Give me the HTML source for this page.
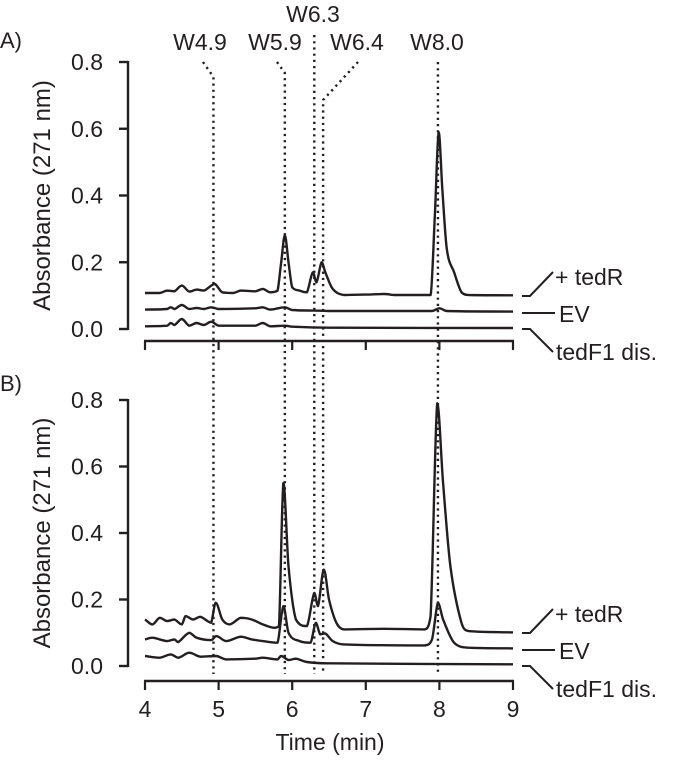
<!DOCTYPE html>
<html><head><meta charset="utf-8"><style>
html,body{margin:0;padding:0;background:#fff}
svg{display:block;font-family:"Liberation Sans",sans-serif;fill:#231f20}
</style></head><body>
<svg id="chart" width="680" height="761" viewBox="0 0 680 761">
<g id="layer"></g>
</svg>
<script>
const xTicks=[4,5,6,7,8,9];
const yTicks=[0,0.2,0.4,0.6,0.8];
const yTickLabels=["0.0","0.2","0.4","0.6","0.8"];
const peakNames=["W4.9","W5.9","W6.3","W6.4","W8.0"];
const peakTimes=[4.93,5.9,6.3,6.42,7.98];
const seriesNames=["+ tedR","EV","tedF1 dis."];
const aTedRt=[4.0,4.2,4.3,4.4,4.5,4.6,4.7,4.8,4.9,4.95,5.05,5.2,5.3,5.5,5.6,5.7,5.8,5.85,5.9,5.95,6.0,6.1,6.2,6.28,6.33,6.4,6.45,6.55,6.7,7.0,7.25,7.4,7.88,7.94,7.99,8.04,8.1,8.2,8.3,8.4,9.0];
const aTedRv=[.108,.108,.115,.113,.13,.112,.118,.115,.13,.135,.11,.108,.115,.113,.12,.11,.115,.2,.28,.2,.125,.115,.11,.17,.14,.2,.17,.12,.102,.103,.105,.102,.102,.35,.59,.42,.24,.17,.11,.102,.101];
const aEVt=[4.0,4.3,4.35,4.4,4.5,4.6,4.7,4.8,4.9,5.0,5.5,5.6,5.7,5.9,6.0,6.3,6.5,7.9,8.0,8.1,9.0];
const aEVv=[.058,.06,.065,.06,.072,.06,.063,.06,.065,.06,.062,.065,.058,.065,.057,.055,.054,.054,.062,.054,.052];
const aF1t=[4.0,4.3,4.35,4.4,4.5,4.6,4.7,4.8,4.9,5.0,5.5,5.6,5.7,5.9,6.0,6.5,9.0];
const aF1v=[.008,.01,.018,.012,.03,.01,.018,.012,.022,.01,.01,.018,.008,.01,.007,.004,.003];
const bTedRt=[4.0,4.1,4.2,4.3,4.4,4.5,4.55,4.65,4.75,4.85,4.9,4.96,5.05,5.15,5.3,5.45,5.6,5.75,5.82,5.88,5.95,6.05,6.2,6.3,6.35,6.43,6.5,6.6,6.7,7.25,7.8,7.88,7.97,8.05,8.15,8.3,8.4,9.0];
const bTedRv=[.14,.125,.145,.135,.14,.125,.15,.14,.148,.135,.13,.19,.14,.125,.145,.14,.125,.115,.12,.55,.3,.14,.12,.22,.18,.29,.2,.13,.11,.112,.11,.15,.79,.55,.3,.13,.105,.101];
const bEVt=[4.0,4.1,4.2,4.3,4.4,4.45,4.6,4.7,4.9,4.97,5.1,5.3,5.45,5.6,5.8,5.88,5.95,6.1,6.25,6.32,6.38,6.45,6.55,6.7,7.8,7.9,7.98,8.05,8.2,8.4,9.0];
const bEVv=[.08,.085,.08,.075,.08,.072,.1,.085,.078,.09,.075,.088,.08,.075,.07,.18,.1,.075,.07,.13,.095,.098,.075,.065,.062,.08,.19,.14,.07,.055,.053];
const bF1t=[4.0,4.2,4.35,4.45,4.6,4.75,4.97,5.1,5.5,5.6,5.8,5.85,5.95,6.05,6.2,6.5,9.0];
const bF1v=[.03,.025,.035,.025,.04,.028,.03,.02,.022,.025,.02,.03,.018,.022,.012,.008,.005];

const NS="http://www.w3.org/2000/svg";
const layer=document.getElementById('layer');
const X0=145,X1=513,YAX=128;
const xs=t=>X0+(t-4)*(X1-X0)/5;
function mk(tag,attrs,parent){const e=document.createElementNS(NS,tag);for(const k in attrs)e.setAttribute(k,attrs[k]);(parent||layer).appendChild(e);return e;}
function txt(s,x,y,size,anchor,parent){const e=mk('text',{x:x,y:y,'font-size':size,'text-anchor':anchor||'start'},parent);e.textContent=s;return e;}
const clamp=(v,a,b)=>Math.max(Math.min(a,b),Math.min(Math.max(a,b),v));
function smooth(pts){let d=`M${pts[0][0].toFixed(1)} ${pts[0][1].toFixed(1)}`;
  for(let i=0;i<pts.length-1;i++){const p0=pts[i-1]||pts[i],p1=pts[i],p2=pts[i+1],p3=pts[i+2]||p2;
    const dx=(p2[0]-p1[0])/3;
    let s1=(p2[1]-p0[1])/((p2[0]-p0[0])||1), s2=(p3[1]-p1[1])/((p3[0]-p1[0])||1);
    const c1=[p1[0]+dx,clamp(p1[1]+s1*dx,p1[1],p2[1])],c2=[p2[0]-dx,clamp(p2[1]-s2*dx,p1[1],p2[1])];
    d+=`C${c1[0].toFixed(1)} ${c1[1].toFixed(1)} ${c2[0].toFixed(1)} ${c2[1].toFixed(1)} ${p2[0].toFixed(1)} ${p2[1].toFixed(1)}`;}
  return d;}

const panels=[{label:"A)",labelY:48,base:329,scale:333.75,axisY:341,series:[[aTedRt,aTedRv],[aEVt,aEVv],[aF1t,aF1v]],xlabels:false,lo:0},
{label:"B)",labelY:391,base:666,scale:332.5,axisY:681,series:[[bTedRt,bTedRv],[bEVt,bEVv],[bF1t,bF1v]],xlabels:true,lo:337}];
panels.forEach((p,pi)=>{
  const g=mk('g',{});
  
  
  const ys=v=>p.base-v*p.scale;
  const pl=txt(p.label,0,p.labelY,22,'start',g);
  
  const ya=mk('line',{x1:YAX,x2:YAX,y1:ys(0.8)-1,y2:ys(0)+1,stroke:'#231f20','stroke-width':2.4},g);
  
  yTicks.forEach((v,i)=>{
    mk('line',{x1:YAX-9,x2:YAX,y1:ys(v),y2:ys(v),stroke:'#231f20','stroke-width':2.4},g);
    const t=txt(yTickLabels[i],103,ys(v)+8,23,'end',g);
    
  });
  const yt=txt("Absorbance (271 nm)",0,0,24,'middle',g);
  yt.setAttribute('transform',`translate(50 ${ys(0.4)}) rotate(-90)`);
  
  const xa=mk('line',{x1:X0-1,x2:X1+1,y1:p.axisY,y2:p.axisY,stroke:'#231f20','stroke-width':2.4},g);
  
  xTicks.forEach(t=>{
    mk('line',{x1:xs(t),x2:xs(t),y1:p.axisY,y2:p.axisY+9,stroke:'#231f20','stroke-width':2.2},g);
    if(p.xlabels){const l=txt(String(t),xs(t),p.axisY+36,23,'middle',g);
      }
  });
  p.series.forEach((s,si)=>{
    const pts=s[0].map((t,i)=>[xs(t),ys(s[1][i])]);
    const path=mk('path',{d:smooth(pts),fill:'none',stroke:'#231f20','stroke-width':2.4,'stroke-linejoin':'round'},g);
    
    
  });
  const o=p.lo;
  const l1=mk('path',{d:`M522 ${296+o} H530 L553 ${272+o}`,fill:'none',stroke:'#231f20','stroke-width':2},g);
  
  const t1=txt(seriesNames[0],555,285+o,23,'start',g);
  
  const l2=mk('path',{d:`M522 ${313+o} H555`,fill:'none',stroke:'#231f20','stroke-width':2},g);
  
  const t2=txt(seriesNames[1],559,322+o,23,'start',g);
  
  const l3=mk('path',{d:`M522 ${329+o} H530 L553 ${352+o}`,fill:'none',stroke:'#231f20','stroke-width':2},g);
  
  const t3=txt(seriesNames[2],556,360+o,23,'start',g);
  
});
const tops=[[203,62,77],[277,62,73],[null,35,35],[358,62,100],[null,62,62]];
const labelPos=[[200,50],[275,50],[313,22],[357,50],[437,50]];
peakTimes.forEach((t,i)=>{
  const x=xs(t);const tp=tops[i];
  const d=tp[0]===null?`M${x} ${tp[1]} V674`:`M${tp[0]} ${tp[1]} L${x} ${tp[2]} V674`;
  const ln=mk('path',{d:d,fill:'none',stroke:'#231f20','stroke-width':2.4,'stroke-dasharray':'2.2 4'});
  
  
  const lb=txt(peakNames[i],labelPos[i][0],labelPos[i][1],23,'middle');
  
  
});
const xt=txt("Time (min)",330,750,23,'middle');


</script>
</body></html>
